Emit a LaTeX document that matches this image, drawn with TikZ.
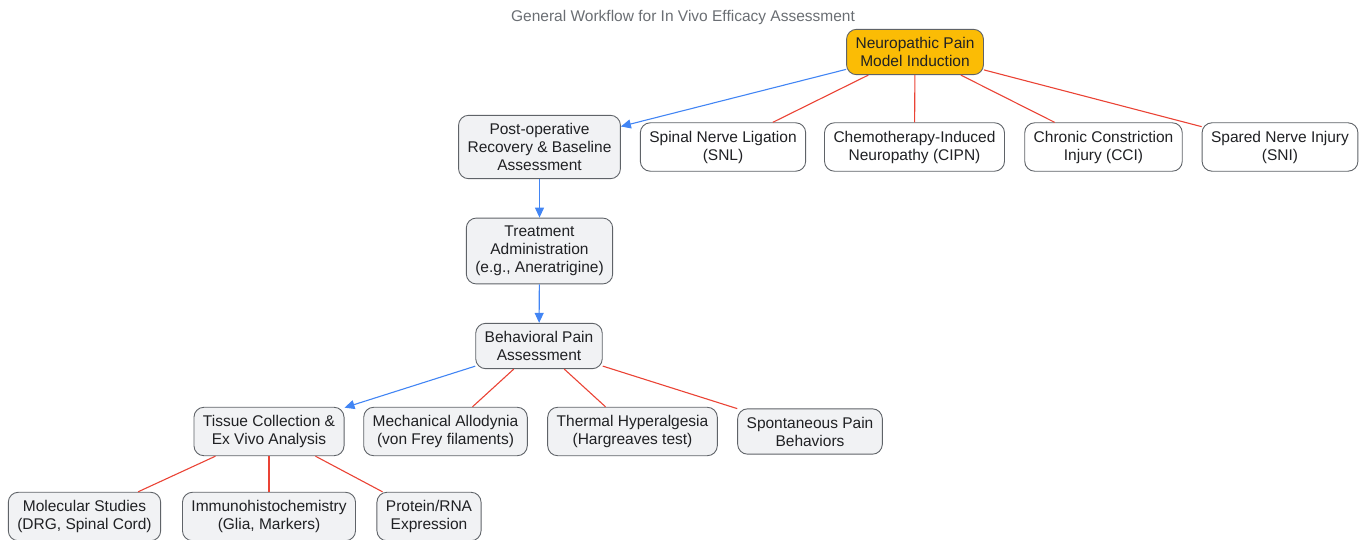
\documentclass[tikz,border=0pt]{standalone}
\usepackage{fontspec}
\setmainfont{Liberation Sans}
\usetikzlibrary{positioning, arrows.meta}
\definecolor{flowblue}{HTML}{4285F4}
\definecolor{linkred}{HTML}{EA4335}
\definecolor{boxgrey}{HTML}{F1F2F4}
\definecolor{boxline}{HTML}{5F6368}
\definecolor{induct}{HTML}{FBBC05}
\definecolor{inktext}{HTML}{202124}
\definecolor{titlegrey}{HTML}{6A6E73}
\tikzset{%
	boxbase/.style = {name = #1, draw = boxline, line width = 0.9pt, rounded corners = 10pt, align = center, text = inktext, inner xsep = 9pt, inner ysep = 8pt, font = \fontsize{15.5}{18}\selectfont},
	stage/.style = {boxbase = #1, fill = boxgrey},
	model/.style = {boxbase = #1, fill = white},
	origin/.style = {boxbase = #1, fill = induct},
	flow/.style = {flowblue, line width = 1.1pt, -{Triangle[length = 10pt, width = 9pt]}},
	link/.style = {linkred, line width = 1.1pt}
}

\begin{document}
\begin{tikzpicture}[x = 1pt, y = -1pt]
			\useasboundingbox (0,0) rectangle (1367,540);
			\node [name = title, text = titlegrey, font = \fontsize{15.5}{18}\selectfont] at (683,17) {General Workflow for In Vivo Efficacy Assessment};
			\node [origin = {ind}] at (915,52) {Neuropathic Pain\\Model Induction};
			\node [stage = {post}] at (539.5,147) {Post-operative\\Recovery \& Baseline\\Assessment};
			\node [model = {snl}] at (723,147) {Spinal Nerve Ligation\\(SNL)};
			\node [model = {cipn}] at (914.5,147) {Chemotherapy-Induced\\Neuropathy (CIPN)};
			\node [model = {cci}] at (1103.5,147) {Chronic Constriction\\Injury (CCI)};
			\node [model = {sni}] at (1280,147) {Spared Nerve Injury\\(SNI)};
			\node [stage = {treat}] at (539.5,251) {Treatment\\Administration\\(e.g., Aneratrigine)};
			\node [stage = {behav}] at (539,346) {Behavioral Pain\\Assessment};
			\node [stage = {tissue}] at (269,431.5) {Tissue Collection \&\\Ex Vivo Analysis};
			\node [stage = {mech}] at (445.5,431.5) {Mechanical Allodynia\\(von Frey filaments)};
			\node [stage = {therm}] at (632.5,431.5) {Thermal Hyperalgesia\\(Hargreaves test)};
			\node [stage = {spont}] at (810,431.5) {Spontaneous Pain\\Behaviors};
			\node [stage = {mol}] at (84.5,516.5) {Molecular Studies\\(DRG, Spinal Cord)};
			\node [stage = {ihc}] at (269,516.5) {Immunohistochemistry\\(Glia, Markers)};
			\node [stage = {prot}] at (429,516.5) {Protein/RNA\\Expression};
			\path [flow] (ind) edge (post);
			\path [link] (ind) edge (snl) edge (cipn) edge (cci) edge (sni);
			\path [flow] (post) edge (treat);
			\path [flow] (treat) edge (behav);
			\path [flow] (behav) edge (tissue);
			\path [link] (behav) edge (mech) edge (therm) edge (spont);
			\path [link] (tissue) edge (mol) edge (ihc) edge (prot);
\end{tikzpicture}
\end{document}
